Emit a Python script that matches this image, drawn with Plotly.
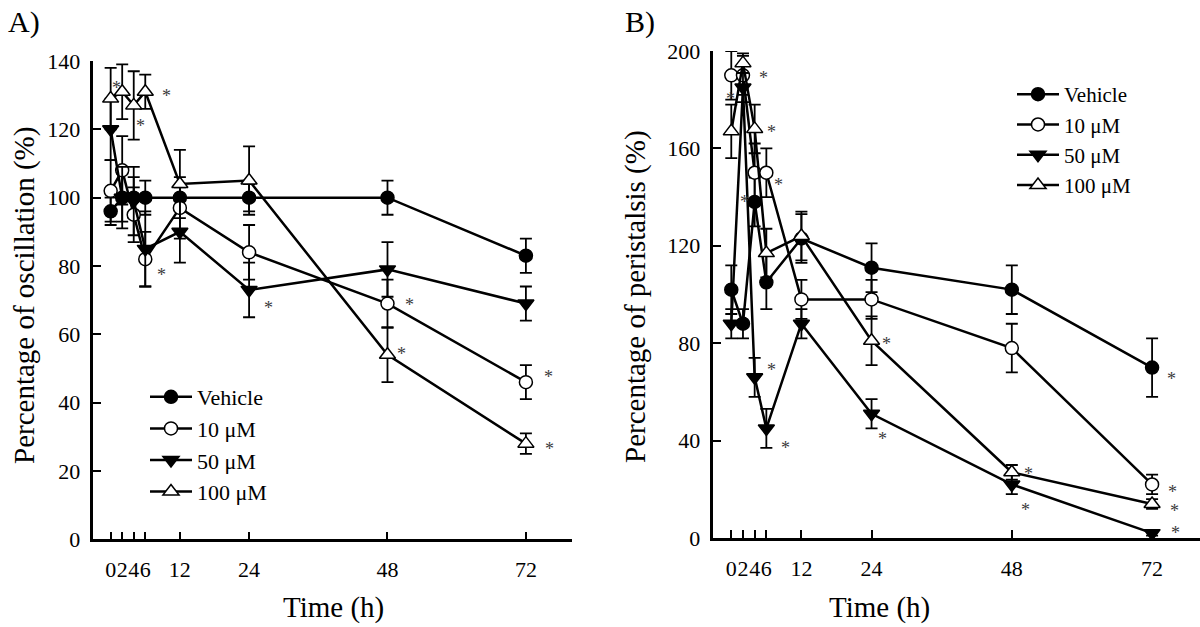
import plotly.graph_objects as go

# ---------------- data ----------------
times = [0, 2, 4, 6, 12, 24, 48, 72]
tick_text = ["0", "2", "4", "6", "12", "24", "48", "72"]
series_names = ["Vehicle", "10 μM", "50 μM", "100 μM"]

# Panel A: Percentage of oscillation (%)
a_vehicle = [96, 100, 100, 100, 100, 100, 100, 83]
a_vehicle_err = [4, 7, 6, 5, 3, 4, 5, 5]
a_10 = [102, 108, 95, 82, 97, 84, 69, 46]
a_10_err = [9, 10, 8, 8, 9, 8, 7, 5]
a_50 = [120, 100, 99, 85, 90, 73, 79, 69]
a_50_err = [9, 9, 10, 11, 9, 8, 8, 5]
a_100 = [129, 131, 127, 131, 104, 105, 54, 28]
a_100_err = [9, 8, 10, 5, 10, 10, 8, 3]

# Panel B: Percentage of peristalsis (%)
b_vehicle = [102, 88, 138, 105, 123, 111, 102, 70]
b_vehicle_err = [10, 6, 10, 11, 10, 10, 10, 12]
b_10 = [190, 190, 150, 150, 98, 98, 78, 22]
b_10_err = [10, 8, 12, 10, 8, 8, 10, 4]
b_50 = [88, 185, 66, 45, 88, 51, 22, 2]
b_50_err = [6, 6, 8, 8, 6, 6, 4, 1]
b_100 = [167, 195, 168, 117, 124, 81, 27, 14]
b_100_err = [11, 4, 10, 10, 10, 10, 3, 2]

# significance marks: (series index, time index, x offset px, y offset px down)
a_stars = [(3, 0, 6, -14), (3, 2, 7, 18), (3, 3, 21, 1), (1, 3, 16, 13),
           (2, 5, 19, 15), (1, 6, 22, -2), (3, 6, 14, -4), (1, 7, 23, -8),
           (3, 7, 24, 2)]
b_stars = [(1, 1, 21, 0), (2, 1, -12, 8), (3, 2, 17, 0), (1, 3, 12, 9),
           (1, 2, -10, 26), (2, 2, 17, -10), (2, 3, 19, 17), (3, 5, 15, 0),
           (2, 5, 11, 22), (3, 6, 17, -1), (2, 6, 14, 23), (0, 7, 19, 8),
           (1, 7, 20, 5), (3, 7, 22, 4), (2, 7, 23, -3)]

# ---------------- styling ----------------
FONT = "Liberation Serif"
symbols = ["circle", "circle", "triangle-down", "triangle-up"]
fills = ["black", "white", "black", "white"]
sizes = [13, 13, 14, 14]

fig = go.Figure()

panels = [
    ("x", "y", "legend", [a_vehicle, a_10, a_50, a_100],
     [a_vehicle_err, a_10_err, a_50_err, a_100_err], a_stars),
    ("x2", "y2", "legend2", [b_vehicle, b_10, b_50, b_100],
     [b_vehicle_err, b_10_err, b_50_err, b_100_err], b_stars),
]

annotations = []
for xr, yr, lg, vals, errs, stars in panels:
    for i in range(4):
        fig.add_trace(go.Scatter(
            x=times, y=vals[i], name=series_names[i], mode="lines+markers",
            xaxis=xr, yaxis=yr, legend=lg,
            line=dict(color="black", width=2.5),
            marker=dict(symbol=symbols[i], size=sizes[i], color=fills[i],
                        line=dict(color="black", width=1.5)),
            error_y=dict(type="data", array=errs[i], visible=True,
                         color="black", thickness=1.8, width=6),
        ))
    for si, ti, dx, dy in stars:
        annotations.append(dict(
            x=times[ti], y=vals[si][ti], xref=xr, yref=yr, text="*",
            showarrow=False, xshift=dx, yshift=-dy - 3,
            font=dict(family=FONT, size=18, color="#3a3a3a"),
        ))

axis_common = dict(
    showline=True, linecolor="black", linewidth=2.5, mirror=False,
    ticks="inside", ticklen=8, tickwidth=2, tickcolor="black",
    showgrid=False, zeroline=False, automargin=False,
    tickfont=dict(family=FONT, size=22, color="black"),
)

fig.update_layout(
    template="none",
    width=1200, height=627,
    margin=dict(l=0, r=0, t=0, b=0, autoexpand=False),
    paper_bgcolor="white", plot_bgcolor="white",
    showlegend=True,
    xaxis=dict(axis_common, domain=[0.0778, 0.4767], range=[-3, 80],
               tickvals=times, ticktext=tick_text, anchor="y",
               tickangle=0, ticklabelstandoff=9),
    yaxis=dict(axis_common, domain=[0.1399, 0.9027], range=[0, 140],
               tickvals=[0, 20, 40, 60, 80, 100, 120, 140], anchor="x",
               ticklabelstandoff=6),
    xaxis2=dict(axis_common, domain=[0.5944, 1.0], range=[-3.08, 80.2],
                tickvals=times, ticktext=tick_text, anchor="y2",
                tickangle=0, ticklabelstandoff=9),
    yaxis2=dict(axis_common, domain=[0.1419, 0.9187], range=[0, 200],
                tickvals=[0, 40, 80, 120, 160, 200], anchor="x2",
                ticklabelstandoff=6),
    legend=dict(x=145 / 1200, y=1 - 376 / 627, xanchor="left", yanchor="top",
                bgcolor="rgba(0,0,0,0)", itemwidth=42, borderwidth=0,
                font=dict(family=FONT, size=22, color="black")),
    legend2=dict(x=1012 / 1200, y=1 - 74 / 627, xanchor="left", yanchor="top",
                 bgcolor="rgba(0,0,0,0)", itemwidth=42, borderwidth=0,
                 font=dict(family=FONT, size=21, color="black")),
)

text_annots = [
    dict(text="A)", x=24 / 1200, y=1 - 22 / 627, size=30, angle=0),
    dict(text="B)", x=640 / 1200, y=1 - 22 / 627, size=30, angle=0),
    dict(text="Time (h)", x=333 / 1200, y=1 - 607 / 627, size=29, angle=0),
    dict(text="Time (h)", x=880 / 1200, y=1 - 607 / 627, size=29, angle=0),
    dict(text="Percentage of oscillation (%)", x=24 / 1200, y=1 - 296 / 627,
         size=29, angle=-90),
    dict(text="Percentage of peristalsis (%)", x=636 / 1200, y=1 - 297 / 627,
         size=29, angle=-90),
]
for t in text_annots:
    annotations.append(dict(
        text=t["text"], x=t["x"], y=t["y"], xref="paper", yref="paper",
        showarrow=False, textangle=t["angle"], xanchor="center", yanchor="middle",
        font=dict(family=FONT, size=t["size"], color="black"),
    ))

fig.update_layout(annotations=annotations)
fig.write_html(
    "out.html",
    config={"displayModeBar": False},
    post_script="document.body.style.margin='0';document.body.style.padding='0';",
)
